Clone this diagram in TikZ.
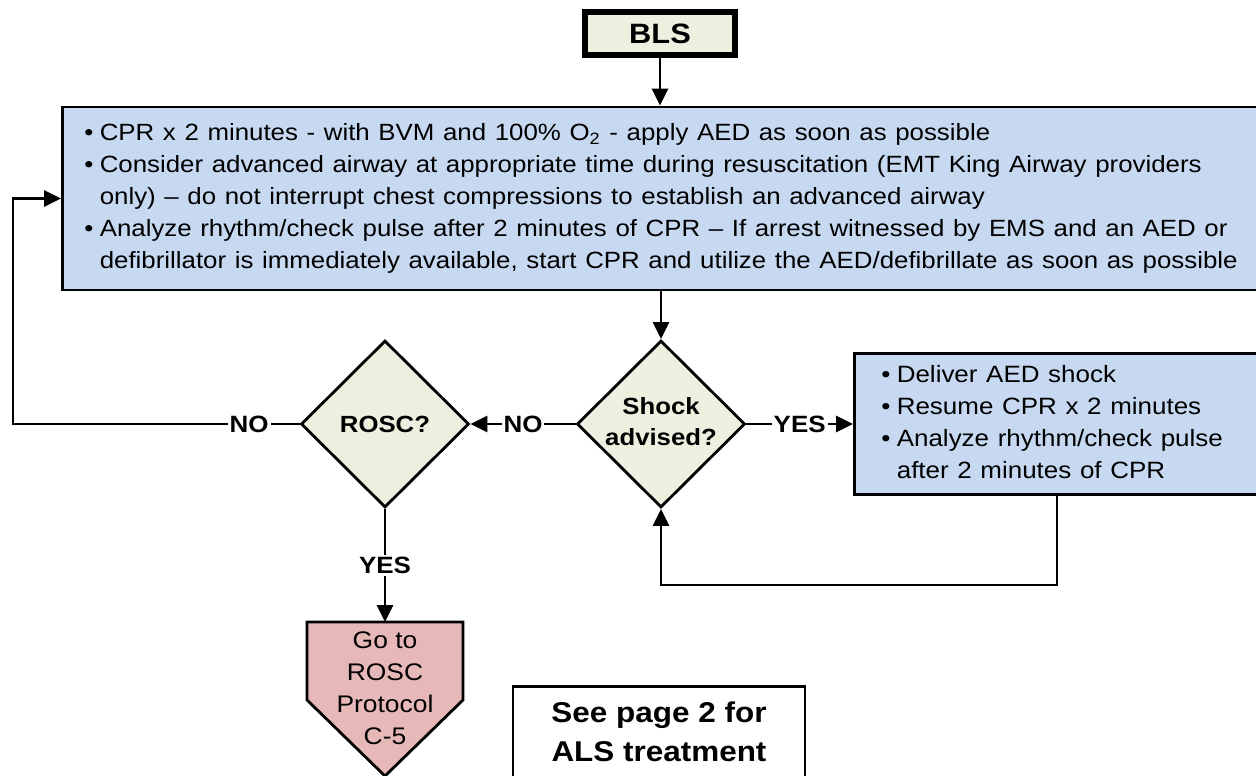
\documentclass[tikz,border=0pt]{standalone}
\usepackage{fontspec}
\setmainfont{Liberation Sans}
\usepackage{graphicx}
\usetikzlibrary{shapes.geometric,arrows.meta,calc}
\definecolor{boxblue}{HTML}{C6D9F1}
\definecolor{decgreen}{HTML}{EBF1DE}
\definecolor{exitred}{HTML}{E6B9B8}
\newcommand{\hx}[1]{\scalebox{1.1}[1]{#1}}
\newcommand{\bul}{\makebox[7pt][l]{•}}
\begin{document}
\begin{tikzpicture}[x=0.5pt,y=-0.5pt,
  line width=1.4pt,
  arr/.style={-{Triangle[length=8.5pt,width=8pt]}},
  bluebox/.style={draw,fill=boxblue,anchor=west,align=left,
    font=\fontsize{11.75}{16}\selectfont},
  dec/.style={diamond,draw,fill=decgreen,inner sep=0pt,
    minimum width=84pt,minimum height=83.5pt,
    font=\fontsize{11.7}{15.5}\selectfont\bfseries},
  lbl/.style={fill=white,inner sep=1pt,font=\fontsize{11.8}{13}\selectfont\bfseries},
]
\clip (0,0) rectangle (1256,775);

% start
\node[draw,line width=2.6pt,fill=decgreen,minimum width=75pt,minimum height=21.5pt,
  inner sep=0pt,font=\fontsize{14}{16}\selectfont\bfseries] (bls) at (660,33.5) {\hx{BLS}};

% CPR box
\node[bluebox,minimum height=91.5pt,text width=582pt,inner xsep=11pt] (cpr) at (61,198.5)
{\hx{\begin{tabular}{@{}l@{}l@{}}
\bul & CPR x 2 minutes - with BVM and 100\% O\textsubscript{2} - apply AED as soon as possible\\
\bul & Consider advanced airway at appropriate time during resuscitation (EMT King Airway providers\\
 & only) – do not interrupt chest compressions to establish an advanced airway\\
\bul & Analyze rhythm/check pulse after 2 minutes of CPR – If arrest witnessed by EMS and an AED or\\
 & defibrillator is immediately available, start CPR and utilize the AED/defibrillate as soon as possible
\end{tabular}}};

% decisions
\node[dec] (shock) at (661,424) {\makebox[0pt]{\hx{\begin{tabular}{@{}c@{}}Shock\\advised?\end{tabular}}}};
\node[dec] (rosc) at (385,424) {\makebox[0pt]{\hx{ROSC?}}};

% shock box
\node[bluebox,minimum height=70pt,text width=190pt,inner xsep=13.5pt,
  font=\fontsize{11.8}{16}\selectfont] (shockbox) at (853,424)
{\hx{\begin{tabular}{@{}l@{}l@{}}
\bul & Deliver AED shock\\
\bul & Resume CPR x 2 minutes\\
\bul & Analyze rhythm/check pulse\\
 & after 2 minutes of CPR
\end{tabular}}};

% exit pentagon
\draw[fill=exitred] (307,622) -- (463,622) -- (463,700) -- (385,776) -- (307,700) -- cycle;
\coordinate (gotop) at (385,622);
\node[inner sep=0pt,font=\fontsize{12}{16}\selectfont] (goto) at (385,690.5)
{\hx{\begin{tabular}{@{}c@{}}Go to\\ROSC\\Protocol\\C-5\end{tabular}}};

% note
\node[draw,fill=white,anchor=north,minimum width=146pt,inner xsep=4pt,inner ysep=4.35pt,
  font=\fontsize{14.3}{19.5}\selectfont\bfseries] (seep) at (659,685)
{\hx{\begin{tabular}{@{}c@{}}See page 2 for\\ALS treatment\end{tabular}}};

% connectors
\draw[arr] (bls.south) -- (bls.south |- cpr.north);
\draw[arr] (shock.north |- cpr.south) -- (shock.north);
\draw[arr] (shock.east) -- node[lbl]{\hx{YES}} (shockbox.west);
\draw[arr] (shock.west) -- node[lbl]{\hx{NO}} (rosc.east);
\coordinate (rb) at (1057,494);
\draw[arr] (rb) -- ++(0,91) -| (shock.south);
\coordinate (lc) at (13,424);
\draw[arr] (rosc.west) -- node[lbl,pos=0.176]{\hx{NO}} (lc) |- (cpr.west);
\draw[arr] (rosc.south) -- node[lbl]{\hx{YES}} (gotop);
\end{tikzpicture}
\end{document}
